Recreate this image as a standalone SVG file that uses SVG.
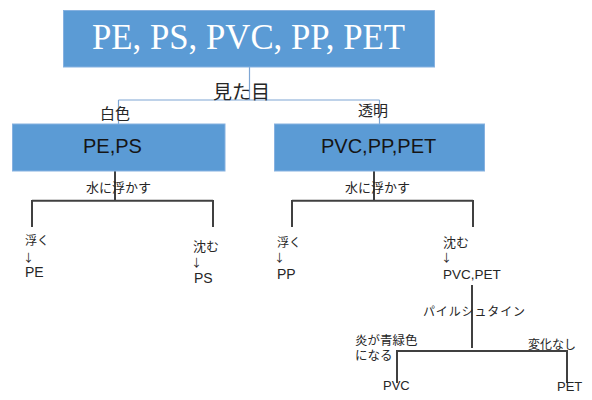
<svg xmlns="http://www.w3.org/2000/svg" width="592" height="400" viewBox="0 0 592 400">
<style>
.box{fill:#5b9bd5;stroke:#86b1e0;stroke-width:1}
.top{font-family:"Liberation Serif","Times New Roman",serif;font-size:35px;fill:#ffffff}
.mid{font-family:"Liberation Sans",Arial,sans-serif;font-size:20px;fill:#151515}
.jp{font-family:"Liberation Sans","Noto Sans CJK JP",sans-serif;fill:#262626}
.arr{font-family:"Noto Sans CJK JP",sans-serif;font-size:11px;fill:#262626}
.lat{font-family:"Liberation Sans",Arial,sans-serif;fill:#262626}
.c1{fill:none;stroke:#7ea6d4;stroke-width:1.2}
.c2{fill:none;stroke:#404040;stroke-width:2}
</style>
<rect width="592" height="400" fill="#ffffff"/>
<g id="connectors">
<path class="c1" d="M249.5 67V100M118.5 100H379.5M118.5 100V124M379.5 100V124"/>
<path class="c2" d="M115 171V200.7M32 200.7H213M32 200V227M213 200V227"/>
<path class="c2" d="M374 171V200.7M292 200.7H473M292 200V227M473 200V227"/>
<path class="c2" d="M472 285V348M397 351H567M397 350V383M567 350V383"/>
</g>
<g id="labels">
<text class="jp" x="213" y="98.5" font-size="19">見た目</text>
<text class="jp" x="100" y="119" font-size="15">白色</text>
<text class="jp" x="358" y="116" font-size="15">透明</text>
<text class="jp" x="86" y="192" font-size="13">水に浮かす</text>
<text class="jp" x="345" y="192" font-size="13">水に浮かす</text>
<text class="jp" x="423" y="316" font-size="12" textLength="102">パイルシュタイン</text>
<text class="jp" x="355" y="344.5" font-size="12.5">炎が青緑色</text>
<text class="jp" x="355" y="359.5" font-size="12.5">になる</text>
<text class="jp" x="528" y="349" font-size="12">変化なし</text>
</g>
<g id="n-all">
<rect class="box" x="63.5" y="10.5" width="371" height="56.5"/>
<text class="top" x="92" y="49.3" textLength="313" lengthAdjust="spacingAndGlyphs">PE, PS, PVC, PP, PET</text>
</g>
<g id="n-peps">
<rect class="box" x="12.5" y="124" width="212.5" height="47"/>
<text class="mid" x="83" y="153">PE,PS</text>
</g>
<g id="n-pvcpppet">
<rect class="box" x="274.5" y="124" width="210" height="47"/>
<text class="mid" x="321" y="153">PVC,PP,PET</text>
</g>
<g id="n-pe">
<text class="jp" x="25" y="245" font-size="12">浮く</text>
<text class="arr" x="23" y="262">↓</text>
<text class="lat" x="25" y="277" font-size="14">PE</text>
</g>
<g id="n-ps">
<text class="jp" x="193" y="251" font-size="13">沈む</text>
<text class="arr" x="191" y="267">↓</text>
<text class="lat" x="194" y="282.5" font-size="14">PS</text>
</g>
<g id="n-pp">
<text class="jp" x="277" y="247" font-size="12">浮く</text>
<text class="arr" x="274" y="262">↓</text>
<text class="lat" x="277" y="279" font-size="14">PP</text>
</g>
<g id="n-pvcpet">
<text class="jp" x="443" y="247" font-size="13">沈む</text>
<text class="arr" x="441" y="262">↓</text>
<text class="lat" x="443" y="279" font-size="13.5">PVC,PET</text>
</g>
<g id="n-pvc">
<text class="lat" x="383" y="390" font-size="13">PVC</text>
</g>
<g id="n-pet">
<text class="lat" x="557" y="391" font-size="13">PET</text>
</g>
</svg>
